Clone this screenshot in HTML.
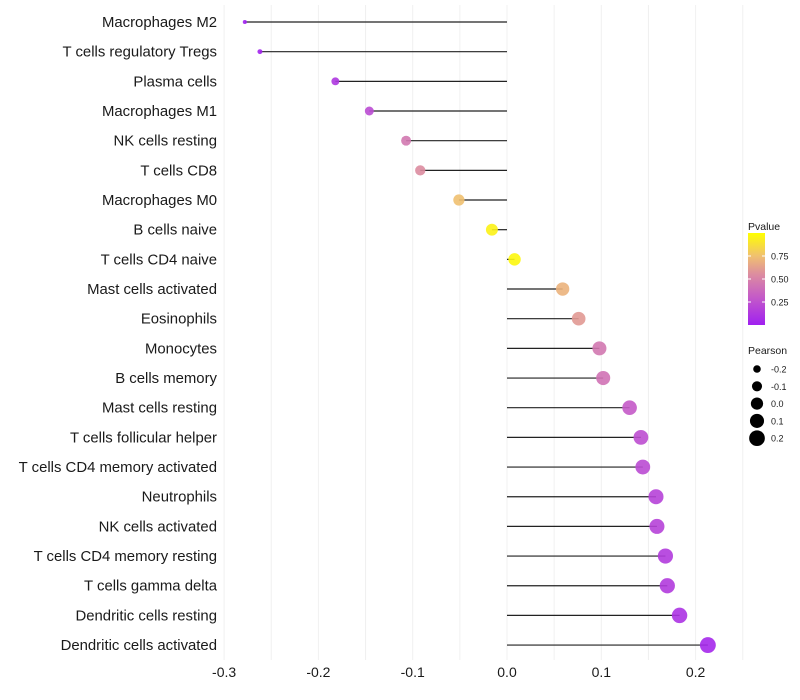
<!DOCTYPE html>
<html><head><meta charset="utf-8"><style>
body{margin:0;background:#fff;}
svg{display:block;font-family:"Liberation Sans",sans-serif;}
</style></head><body>
<svg id="c" width="800" height="700"></svg>
<script>
const cells=["Macrophages M2","T cells regulatory  Tregs","Plasma cells","Macrophages M1","NK cells resting","T cells CD8","Macrophages M0","B cells naive","T cells CD4 naive","Mast cells activated","Eosinophils","Monocytes","B cells memory","Mast cells resting","T cells follicular helper","T cells CD4 memory activated","Neutrophils","NK cells activated","T cells CD4 memory resting","T cells gamma delta","Dendritic cells resting","Dendritic cells activated"];
const pearson=[-0.278,-0.262,-0.182,-0.146,-0.107,-0.092,-0.051,-0.016,0.008,0.059,0.076,0.098,0.102,0.130,0.142,0.144,0.158,0.159,0.168,0.170,0.183,0.213];
const pvals=[0.01,0.02,0.12,0.22,0.45,0.55,0.75,0.95,0.97,0.7,0.6,0.45,0.42,0.3,0.24,0.22,0.18,0.18,0.14,0.14,0.1,0.04];
const xTicks=[-0.3,-0.2,-0.1,0.0,0.1,0.2];
const xTickLabels=["-0.3","-0.2","-0.1","0.0","0.1","0.2"];
const pTicks=[0.25,0.5,0.75];
const pTickLabels=["0.25","0.50","0.75"];
const sizeTicks=[-0.2,-0.1,0.0,0.1,0.2];
const sizeTickLabels=["-0.2","-0.1","0.0","0.1","0.2"];

const NS="http://www.w3.org/2000/svg";
const svg=document.getElementById('c');
function el(t,a,p){const e=document.createElementNS(NS,t);for(const k in a)e.setAttribute(k,a[k]);(p||svg).appendChild(e);return e;}
const x=v=>507+v*943;
const y=i=>22+i*29.67;
const rad=v=>Math.sqrt(Math.max(3,4+(v+0.28)*120));
const stops=[[0,[160,32,240]],[0.3,[196,90,200]],[0.55,[220,140,160]],[0.75,[240,192,112]],[1,[255,255,0]]];
function col(p){for(let i=1;i<stops.length;i++){if(p<=stops[i][0]){const a=stops[i-1],b=stops[i],t=(p-a[0])/(b[0]-a[0]);return 'rgb('+a[1].map((c,j)=>Math.round(c+(b[1][j]-c)*t)).join(',')+')';}}return 'rgb(255,255,0)';}

for(let v=-0.3;v<=0.2501;v+=0.05){
  const g=el('line',{x1:x(v),x2:x(v),y1:5,y2:660,stroke:'#f0f0f0','stroke-width':1});
  
  
}
cells.forEach((c,i)=>{
  const t=el('text',{x:217,y:y(i)+5,'text-anchor':'end','font-size':'14.9',fill:'#1a1a1a'});
  t.textContent=c;
  
  
  const l=el('line',{x1:x(0),x2:x(pearson[i]),y1:y(i),y2:y(i),stroke:'#222','stroke-width':1.2});
  
  
  const d=el('circle',{cx:x(pearson[i]),cy:y(i),r:rad(pearson[i]),fill:col(pvals[i]),'fill-opacity':0.9});
  
  
});
xTicks.forEach((v,i)=>{
  const t=el('text',{x:x(v),y:677,'text-anchor':'middle','font-size':'14',fill:'#1a1a1a'});
  t.textContent=xTickLabels[i];
  
  
});
const lt=el('text',{x:748,y:230,'font-size':'10.5',fill:'#1a1a1a'});lt.textContent='Pvalue';


const defs=el('defs',{});
const grad=el('linearGradient',{id:'pg',x1:0,y1:1,x2:0,y2:0},defs);
stops.forEach(s=>el('stop',{offset:s[0],'stop-color':'rgb('+s[1].join(',')+')'},grad));
const py=p=>325-p*92;
const bar=el('rect',{x:748,y:py(1),width:17,height:92,fill:'url(#pg)'});


pTicks.forEach((p,i)=>{
  el('line',{x1:748,x2:751,y1:py(p),y2:py(p),stroke:'#fff'});
  el('line',{x1:762,x2:765,y1:py(p),y2:py(p),stroke:'#fff'});
  const t=el('text',{x:771,y:py(p)+3.5,'font-size':'9',fill:'#1a1a1a'});t.textContent=pTickLabels[i];
  
  
});
const st=el('text',{x:748,y:354,'font-size':'10.5',fill:'#1a1a1a'});st.textContent='Pearson';


sizeTicks.forEach((v,i)=>{
  const cy=369+i*17.3;
  const c=el('circle',{cx:757,cy:cy,r:Math.max(3.8,rad(v)),fill:'#000'});
  
  
  const t=el('text',{x:771,y:cy+3.5,'font-size':'9',fill:'#1a1a1a'});t.textContent=sizeTickLabels[i];
  
  
});
</script>
</body></html>
